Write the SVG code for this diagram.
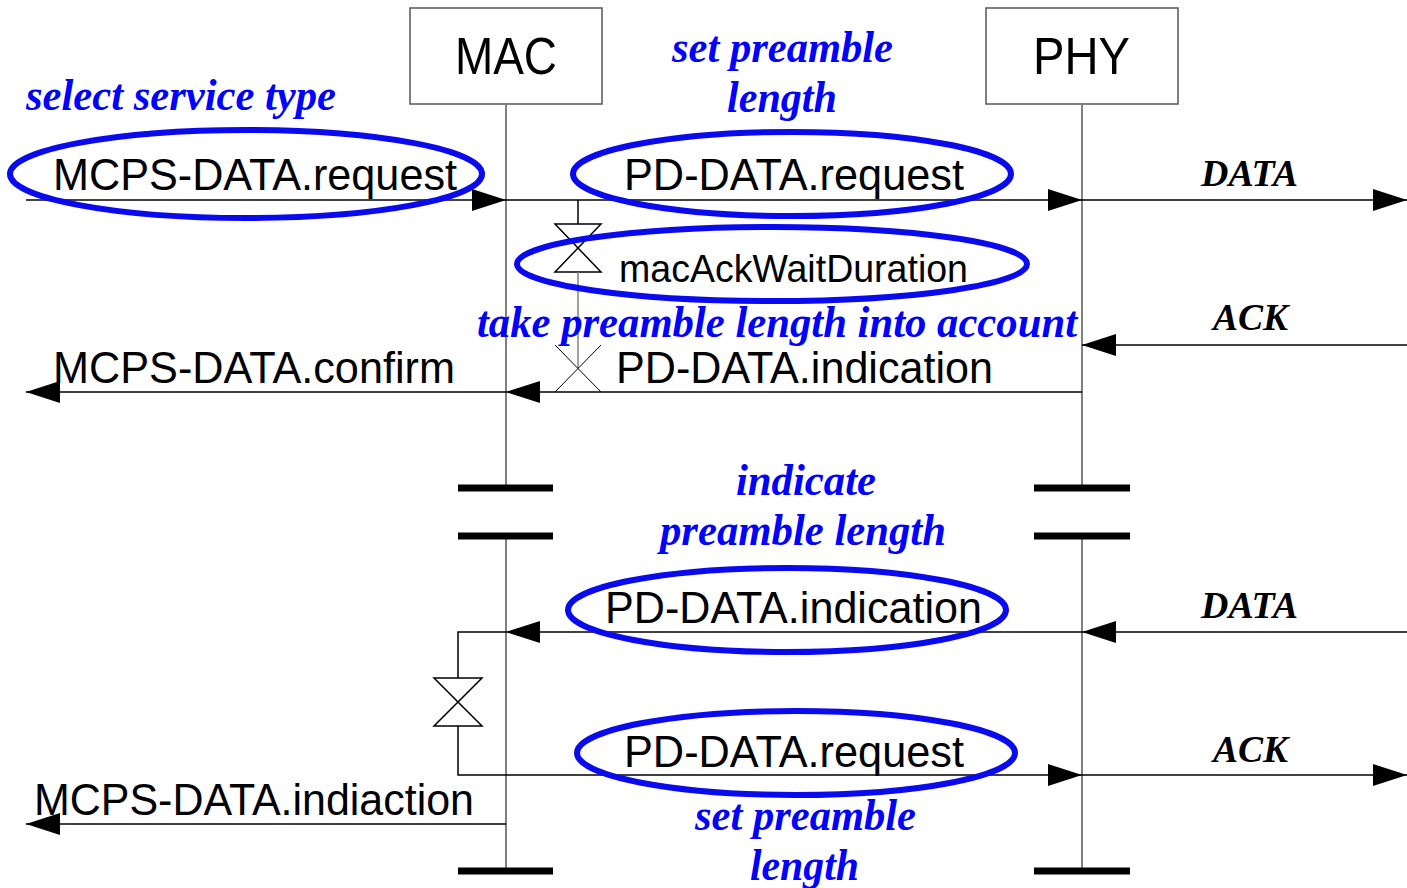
<svg xmlns="http://www.w3.org/2000/svg" width="1407" height="888" viewBox="0 0 1407 888">
<style>
.box{fill:#fff;stroke:#555;stroke-width:1.5}
.life{stroke:#808080;stroke-width:2;fill:none}
.msg{stroke:#000;stroke-width:1.5;fill:none}
.gmsg{stroke:#808080;stroke-width:1.5;fill:none}
.bar{stroke:#000;stroke-width:7}
.ell{fill:none;stroke:#0a0aee;stroke-width:6}
.tm{fill:none;stroke:#000;stroke-width:1.5}
.lbl{font-family:"Liberation Sans",Arial,sans-serif;font-size:44px;fill:#000}
.hdr{font-family:"Liberation Sans",Arial,sans-serif;font-size:51px;fill:#000}
.note{font-family:"Liberation Serif","Times New Roman",serif;font-size:45px;font-weight:bold;font-style:italic;fill:#0000ff}
.frm{font-family:"Liberation Serif","Times New Roman",serif;font-size:38px;font-weight:bold;font-style:italic;fill:#000}
</style>
<defs>
<marker id="ah" markerWidth="34" markerHeight="22" refX="34" refY="11" orient="auto" markerUnits="userSpaceOnUse">
<path d="M0,0 L34,11 L0,22 Z" fill="#000"/>
</marker>
</defs>

<g id="mac">
<rect class="box" x="410" y="8" width="192" height="96"/>
<text class="hdr" x="455" y="74" textLength="102" lengthAdjust="spacingAndGlyphs">MAC</text>
</g>
<g id="phy">
<rect class="box" x="986" y="8" width="192" height="96"/>
<text class="hdr" x="1033" y="74" textLength="97" lengthAdjust="spacingAndGlyphs">PHY</text>
</g>

<g id="lifelines">
<line class="life" x1="506" y1="104" x2="506" y2="488"/>
<line class="life" x1="506" y1="536" x2="506" y2="871"/>
<line class="life" x1="1082" y1="104" x2="1082" y2="488"/>
<line class="life" x1="1082" y1="536" x2="1082" y2="871"/>
<line class="bar" x1="458" y1="488" x2="553" y2="488"/>
<line class="bar" x1="458" y1="536" x2="553" y2="536"/>
<line class="bar" x1="1034" y1="488" x2="1130" y2="488"/>
<line class="bar" x1="1034" y1="536" x2="1130" y2="536"/>
<line class="bar" x1="458" y1="871" x2="553" y2="871"/>
<line class="bar" x1="1034" y1="871" x2="1130" y2="871"/>
</g>

<g id="connectors">
<line class="msg" x1="26" y1="200" x2="506" y2="200" marker-end="url(#ah)"/>
<line class="msg" x1="506" y1="200" x2="1082" y2="200" marker-end="url(#ah)"/>
<line class="msg" x1="1082" y1="200" x2="1407" y2="200" marker-end="url(#ah)"/>
<line class="msg" x1="1407" y1="345" x2="1082" y2="345" marker-end="url(#ah)"/>
<line class="msg" x1="1082" y1="392" x2="506" y2="392" marker-end="url(#ah)"/>
<line class="msg" x1="506" y1="392" x2="26" y2="392" marker-end="url(#ah)"/>
<line class="msg" x1="1407" y1="632" x2="1082" y2="632" marker-end="url(#ah)"/>
<line class="msg" x1="1082" y1="632" x2="506" y2="632" marker-end="url(#ah)"/>
<polyline class="msg" points="506,632 458,632 458,678"/>
<polyline class="msg" points="458,726 458,775 1082,775" marker-end="url(#ah)"/>
<line class="msg" x1="1082" y1="775" x2="1407" y2="775" marker-end="url(#ah)"/>
<line class="msg" x1="506" y1="824" x2="26" y2="824" marker-end="url(#ah)"/>
<line class="tm" x1="578" y1="200" x2="578" y2="224"/>
<path class="tm" d="M555,224 L601,224 L555,272 L601,272 Z"/>
<line class="gmsg" x1="578" y1="272" x2="578" y2="368"/>
<path class="tm" d="M555,345 L601,392 M601,345 L555,392" style="stroke-width:1"/>
<path class="tm" d="M434,678 L482,678 L434,726 L482,726 Z"/>
</g>

<g id="labels">
<text class="lbl" x="53" y="190" textLength="404" lengthAdjust="spacingAndGlyphs">MCPS-DATA.request</text>
<text class="lbl" x="624" y="190" textLength="340" lengthAdjust="spacingAndGlyphs">PD-DATA.request</text>
<text class="lbl" x="619" y="282" style="font-size:38px" textLength="349" lengthAdjust="spacingAndGlyphs">macAckWaitDuration</text>
<text class="lbl" x="53" y="383" textLength="402" lengthAdjust="spacingAndGlyphs">MCPS-DATA.confirm</text>
<text class="lbl" x="616" y="383" textLength="377" lengthAdjust="spacingAndGlyphs">PD-DATA.indication</text>
<text class="lbl" x="605" y="623" textLength="377" lengthAdjust="spacingAndGlyphs">PD-DATA.indication</text>
<text class="lbl" x="624" y="767" textLength="340" lengthAdjust="spacingAndGlyphs">PD-DATA.request</text>
<text class="lbl" x="34" y="815" textLength="440" lengthAdjust="spacingAndGlyphs">MCPS-DATA.indiaction</text>
<text class="frm" x="1201" y="186" textLength="97" lengthAdjust="spacingAndGlyphs">DATA</text>
<text class="frm" x="1213" y="330" textLength="75" lengthAdjust="spacingAndGlyphs">ACK</text>
<text class="frm" x="1201" y="618" textLength="97" lengthAdjust="spacingAndGlyphs">DATA</text>
<text class="frm" x="1213" y="762" textLength="75" lengthAdjust="spacingAndGlyphs">ACK</text>
</g>

<g id="notes">
<ellipse class="ell" cx="246" cy="174" rx="236" ry="44"/>
<ellipse class="ell" cx="792" cy="174" rx="219" ry="42"/>
<ellipse class="ell" cx="772" cy="264" rx="255" ry="37"/>
<ellipse class="ell" cx="787" cy="610" rx="219" ry="42"/>
<ellipse class="ell" cx="796" cy="753" rx="219" ry="42"/>
<text class="note" x="26" y="110" textLength="310" lengthAdjust="spacingAndGlyphs">select service type</text>
<text class="note" x="672" y="62" textLength="221" lengthAdjust="spacingAndGlyphs">set preamble</text>
<text class="note" x="727" y="112" textLength="110" lengthAdjust="spacingAndGlyphs">length</text>
<text class="note" x="477" y="337" textLength="600" lengthAdjust="spacingAndGlyphs">take preamble length into account</text>
<text class="note" x="736" y="495" textLength="140" lengthAdjust="spacingAndGlyphs">indicate</text>
<text class="note" x="660" y="545" textLength="286" lengthAdjust="spacingAndGlyphs">preamble length</text>
<text class="note" x="695" y="830" textLength="221" lengthAdjust="spacingAndGlyphs">set preamble</text>
<text class="note" x="750" y="880" textLength="109" lengthAdjust="spacingAndGlyphs">length</text>
</g>
</svg>
